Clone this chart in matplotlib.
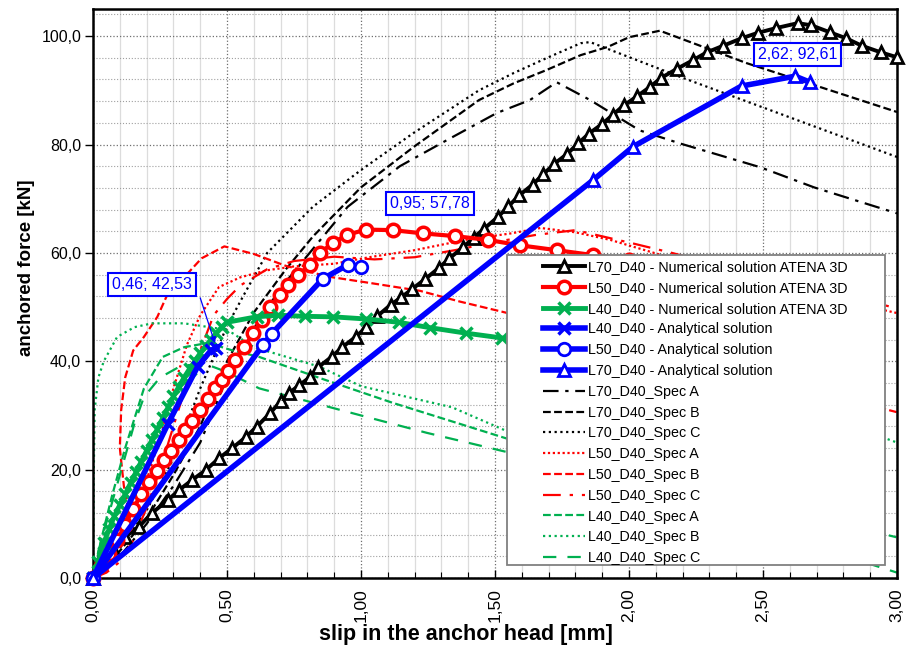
import matplotlib
matplotlib.use('Agg')
import matplotlib.pyplot as plt
from matplotlib.ticker import MultipleLocator, FuncFormatter
from matplotlib.patches import Rectangle

plt.rcParams['font.family'] = ['Liberation Sans', 'DejaVu Sans']

BLACK = '#000000'
RED = '#ff0000'
GREEN = '#00b050'
BLUE = '#0000ff'

########################### numerical solution ATENA 3D ###########################
l70_num_x = [0, 0.03, 0.07, 0.12, 0.17, 0.22, 0.28, 0.32, 0.37, 0.42, 0.47, 0.52, 0.57, 0.61,
             0.66, 0.70, 0.73, 0.77, 0.81, 0.84, 0.89, 0.93, 0.98, 1.02, 1.06, 1.11, 1.15, 1.19,
             1.24, 1.29, 1.33, 1.38, 1.42, 1.46, 1.51, 1.55, 1.59, 1.64, 1.68, 1.72, 1.77, 1.81,
             1.85, 1.90, 1.94, 1.98, 2.03, 2.08, 2.12, 2.18, 2.24, 2.29, 2.35, 2.42, 2.48, 2.55,
             2.63, 2.68, 2.75, 2.81, 2.87, 2.94, 3.00]
l70_num_y = [0, 3.9, 5.7, 7.6, 9.4, 12.0, 14.4, 16.2, 18.1, 19.9, 22.1, 24.0, 26.0, 27.9,
             30.4, 32.6, 34.1, 35.6, 37.1, 38.9, 40.8, 42.6, 44.5, 46.3, 48.3, 50.4, 51.8, 53.3,
             55.2, 57.2, 59.0, 61.0, 62.8, 64.5, 66.6, 68.6, 70.6, 72.6, 74.5, 76.4, 78.3, 80.2,
             82.0, 83.8, 85.5, 87.2, 88.9, 90.7, 92.3, 94.0, 95.6, 97.0, 98.2, 99.6, 100.6, 101.5,
             102.4, 102.0, 100.7, 99.6, 98.2, 97.0, 96.1]

l50_num_x = [0, 0.03, 0.06, 0.09, 0.12, 0.15, 0.18, 0.21, 0.24, 0.265, 0.29, 0.32, 0.345, 0.37,
             0.40, 0.43, 0.455, 0.48, 0.505, 0.53, 0.565, 0.597, 0.63, 0.66, 0.697, 0.727, 0.764,
             0.808, 0.846, 0.895, 0.946, 1.018, 1.118, 1.231, 1.35, 1.473, 1.593, 1.73, 1.865, 2.0]
l50_num_y = [0, 2.2, 4.5, 7.0, 9.8, 12.8, 15.5, 17.7, 19.8, 21.7, 23.5, 25.5, 27.4, 29.0,
             31.0, 33.0, 35.0, 36.6, 38.2, 40.3, 42.6, 45.2, 47.6, 50.0, 52.2, 54.0, 55.9,
             57.7, 60.0, 61.8, 63.3, 64.3, 64.2, 63.6, 63.1, 62.4, 61.4, 60.5, 59.6, 58.7]

l40_num_x = [0, 0.02, 0.04, 0.06, 0.08, 0.10, 0.12, 0.14, 0.16, 0.18, 0.20, 0.22, 0.24, 0.26,
             0.28, 0.30, 0.32, 0.34, 0.36, 0.38, 0.40, 0.42, 0.44, 0.46, 0.48, 0.50, 0.61, 0.69,
             0.79, 0.895, 1.02, 1.14, 1.257, 1.39, 1.525, 1.65]
l40_num_y = [0, 3.0, 6.5, 9.0, 11.5, 13.5, 15.5, 17.5, 19.5, 21.5, 23.5, 25.5, 27.5, 29.5,
             31.5, 33.5, 35.3, 37.0, 38.6, 40.0, 41.5, 42.8, 44.0, 45.2, 46.3, 47.2, 48.2, 48.5,
             48.3, 48.2, 47.8, 47.2, 46.2, 45.2, 44.3, 43.5]

########################### analytical solution ###########################
l40_ana_x = [0, 0.28, 0.39, 0.44, 0.46]
l40_ana_y = [0, 28.5, 39.0, 42.0, 42.53]
l50_ana_x = [0, 0.634, 0.667, 0.857, 0.95, 0.999]
l50_ana_y = [0, 43.0, 45.1, 55.2, 57.78, 57.4]
l70_ana_x = [0, 1.865, 2.015, 2.42, 2.62, 2.675]
l70_ana_y = [0, 73.4, 79.6, 90.8, 92.61, 91.5]

########################### specimens ###########################
l70_a_x = [0, 0.1, 0.2, 0.3, 0.4, 0.5, 0.6, 0.7, 0.8, 0.95, 1.145, 1.32, 1.506, 1.63, 1.73,
           1.855, 2.04, 2.19, 2.49, 2.69, 3.0]
l70_a_y = [0, 4, 10, 17, 25, 37, 46, 53.5, 59.5, 68.5, 76.0, 80.8, 85.8, 88.2, 91.5,
           88.2, 82.6, 80.2, 75.8, 72.1, 67.3]
l70_b_x = [0, 0.1, 0.2, 0.3, 0.4, 0.5, 0.6, 0.72, 0.82, 1.0, 1.195, 1.44, 1.57, 1.69, 1.82,
           1.92, 2.0, 2.115, 2.44, 3.0]
l70_b_y = [0, 5, 11, 19, 28, 40, 49, 57, 63, 72.1, 79.5, 88.2, 91.3, 93.7, 96.5,
           98.0, 99.8, 101.0, 95.0, 86.0]
l70_c_x = [0, 0.1, 0.2, 0.3, 0.4, 0.5, 0.56, 0.65, 0.82, 1.0, 1.195, 1.44, 1.57, 1.69, 1.82,
           1.855, 2.19, 3.0]
l70_c_y = [0, 5.5, 12.5, 22, 35, 46.5, 52, 60, 68.5, 75.3, 82.1, 90.0, 93.2, 95.9, 98.7,
           98.9, 92.5, 77.7]

l50_a_x = [0, 0.05, 0.1, 0.15, 0.2, 0.25, 0.3, 0.35, 0.4, 0.47, 0.55, 0.65, 0.75, 0.9, 1.03,
           1.2, 1.4, 1.56, 1.67, 1.8, 1.93, 2.4, 3.0]
l50_a_y = [0, 3, 7, 12, 18, 26, 35, 43, 48.5, 53.7, 55.5, 56.8, 57.5, 58.0, 59.2,
           60.5, 62.5, 63.6, 64.6, 63.8, 62.4, 55.5, 48.9]
l50_b_x = [0, 0.04, 0.08, 0.12, 0.13, 0.115, 0.10, 0.105, 0.12, 0.15, 0.19, 0.24, 0.28, 0.34,
           0.405, 0.49, 0.6, 0.72, 0.88, 1.04, 1.22, 1.37, 1.53, 2.3, 3.0]
l50_b_y = [0, 2, 5, 9, 13, 17, 24, 31, 37, 42, 44.5, 48.2, 52.6, 55.5,
           59.0, 61.2, 59.8, 57.6, 55.6, 54.4, 53.0, 51.0, 49.1, 39.5, 30.6]
l50_c_x = [0, 0.05, 0.1, 0.15, 0.2, 0.25, 0.3, 0.35, 0.4, 0.45, 0.5, 0.55, 0.65, 0.75, 0.9,
           1.05, 1.2, 1.35, 1.5, 1.65, 1.8, 2.01, 2.16, 2.5, 3.0]
l50_c_y = [0, 1, 3, 7, 13, 20, 28, 36, 42, 48.5, 51.5, 54, 57, 58.5, 59.3,
           58.8, 59.2, 60.5, 62.0, 63.3, 64.2, 61.8, 60.0, 55.5, 49.8]

l40_a_x = [0, 0.03, 0.07, 0.12, 0.19, 0.26, 0.34, 0.43, 0.52, 0.62, 0.87, 1.12, 1.54, 2.3, 3.0]
l40_a_y = [0, 7, 15, 24, 35, 40.8, 42.6, 43.4, 42.0, 40.8, 36.5, 32.3, 25.8, 16.0, 7.5]
l40_b_x = [0, 0.003, 0.006, 0.02, 0.04, 0.09, 0.155, 0.22, 0.34, 0.46, 0.52, 0.6, 0.845, 1.0,
           1.34, 1.54, 2.2, 2.9, 3.0]
l40_b_y = [0, 20, 31, 37, 40, 44.5, 46.3, 47.0, 47.0, 46.1, 45.2, 42.6, 39.0, 35.4,
           31.5, 27.2, 26.8, 26.8, 25.0]
l40_c_x = [0, 0.02, 0.06, 0.1, 0.155, 0.19, 0.25, 0.33, 0.42, 0.5, 0.62, 0.81, 1.0, 1.245,
           1.54, 2.3, 3.0]
l40_c_y = [0, 5, 12, 19, 28.6, 33.4, 37, 39.2, 39.5, 38, 35, 32.5, 30, 26.8,
           23.3, 12, 1]

fig = plt.figure(figsize=(9.13, 6.6), dpi=100)
ax = fig.add_axes([0.1019, 0.1242, 0.8806, 0.8621])

# numerical + analytical solutions
ax.plot(l70_num_x, l70_num_y, color=BLACK, lw=2.8, marker='^', ms=9, mfc='white', mec=BLACK, mew=2,
        label='L70_D40 - Numerical solution ATENA 3D', zorder=3, clip_on=False)
ax.plot(l50_num_x, l50_num_y, color=RED, lw=3, marker='o', ms=9, mfc='white', mec=RED, mew=2.5,
        label='L50_D40 - Numerical solution ATENA 3D', zorder=3, clip_on=False)
ax.plot(l40_num_x, l40_num_y, color=GREEN, lw=3.5, marker='x', ms=9, mec=GREEN, mew=2.5,
        label='L40_D40 - Numerical solution ATENA 3D', zorder=3, clip_on=False)
ax.plot(l40_ana_x, l40_ana_y, color=BLUE, lw=4, marker='x', ms=9, mec=BLUE, mew=2.5,
        label='L40_D40 - Analytical solution', zorder=3.5, clip_on=False)
ax.plot(l50_ana_x, l50_ana_y, color=BLUE, lw=4, marker='o', ms=9, mfc='white', mec=BLUE, mew=2,
        label='L50_D40 - Analytical solution', zorder=3.5, clip_on=False)
ax.plot(l70_ana_x, l70_ana_y, color=BLUE, lw=4, marker='^', ms=9, mfc='white', mec=BLUE, mew=2,
        label='L70_D40 - Analytical solution', zorder=3.5, clip_on=False)

# specimens
ax.plot(l70_a_x, l70_a_y, color=BLACK, lw=1.6, ls=(0, (7, 3, 1.5, 3)), label='L70_D40_Spec A', zorder=2)
ax.plot(l70_b_x, l70_b_y, color=BLACK, lw=1.6, ls=(0, (3.5, 1.5)), label='L70_D40_Spec B', zorder=2)
ax.plot(l70_c_x, l70_c_y, color=BLACK, lw=1.6, ls=(0, (1, 1.6)), label='L70_D40_Spec C', zorder=2)
ax.plot(l50_a_x, l50_a_y, color=RED, lw=1.6, ls=(0, (1, 1.2)), label='L50_D40_Spec A', zorder=2)
ax.plot(l50_b_x, l50_b_y, color=RED, lw=1.6, ls=(0, (3.5, 1.5)), label='L50_D40_Spec B', zorder=2)
ax.plot(l50_c_x, l50_c_y, color=RED, lw=1.6, ls=(0, (8, 4, 1.5, 4)), label='L50_D40_Spec C', zorder=2)
ax.plot(l40_a_x, l40_a_y, color=GREEN, lw=1.6, ls=(0, (3.5, 1.5)), label='L40_D40_Spec A', zorder=2)
ax.plot(l40_b_x, l40_b_y, color=GREEN, lw=1.6, ls=(0, (1, 1.6)), label='L40_D40_Spec B', zorder=2)
ax.plot(l40_c_x, l40_c_y, color=GREEN, lw=1.6, ls=(0, (6, 5)), label='L40_D40_Spec C', zorder=2)

# value boxes
box = dict(boxstyle='square,pad=0.25', fc='white', ec=BLUE, lw=1.5)
ax.text(0.2185, 54.15, '0,46; 42,53', color=BLUE, fontsize=11.5, ha='center', va='center', bbox=box, zorder=7)
ax.annotate('', xy=(0.455, 43.3), xytext=(0.40, 51.7),
            arrowprops=dict(arrowstyle='-|>', color=BLUE, lw=0.9, shrinkA=0, shrinkB=0, mutation_scale=9), zorder=7)
ax.text(1.257, 69.1, '0,95; 57,78', color=BLUE, fontsize=11.5, ha='center', va='center', bbox=box, zorder=7)
ax.text(2.629, 96.6, '2,62; 92,61', color=BLUE, fontsize=11.5, ha='center', va='center', bbox=box, zorder=7)

ax.set_xlim(0, 3.0)
ax.set_ylim(0, 105)
ax.xaxis.set_major_locator(MultipleLocator(0.5))
ax.xaxis.set_minor_locator(MultipleLocator(0.1))
ax.yaxis.set_major_locator(MultipleLocator(20))
ax.yaxis.set_minor_locator(MultipleLocator(4))
ax.xaxis.set_major_formatter(FuncFormatter(lambda v, p: ('%.2f' % v).replace('.', ',')))
ax.yaxis.set_major_formatter(FuncFormatter(lambda v, p: ('%.1f' % v).replace('.', ',')))

ax.grid(which='major', color='#6e6e6e', ls=':', lw=0.9)
ax.xaxis.grid(which='minor', color='#dcdcdc', ls='-', lw=0.9)
ax.yaxis.grid(which='minor', color='#a0a0a0', ls=':', lw=0.8)
ax.set_axisbelow(True)

ax.tick_params(axis='y', which='major', direction='out', length=5.5, width=1, labelsize=11.5, pad=3)
ax.tick_params(axis='y', which='minor', length=0)
ax.tick_params(axis='x', which='major', direction='in', length=6, width=1, labelsize=12.5,
               labelrotation=90, pad=7.5)
ax.tick_params(axis='x', which='minor', direction='in', length=4, width=0.8)
for s in ax.spines.values():
    s.set_linewidth(1.8)

ax.set_xlabel('slip in the anchor head [mm]', fontsize=15.5, fontweight='bold')
ax.set_ylabel('anchored force [kN]', fontsize=13.5, fontweight='bold')
ax.xaxis.set_label_coords(0.464, -0.080)
ax.yaxis.set_label_coords(-0.072, 0.545)

# legend frame drawn separately (Excel style padding)
ax.add_patch(Rectangle((0.515, 0.0228), 0.47, 0.545, transform=ax.transAxes, fc='white',
                       ec='#808080', lw=1.3, zorder=4.5))
leg = ax.legend(loc='upper left', bbox_to_anchor=(0.5597, 0.559), frameon=False, fontsize=10.3,
                numpoints=1, handlelength=2.95, handletextpad=0.2, labelspacing=0.475,
                borderpad=0, borderaxespad=0)
leg.set_zorder(5)

plt.savefig('out.png', dpi=100)
